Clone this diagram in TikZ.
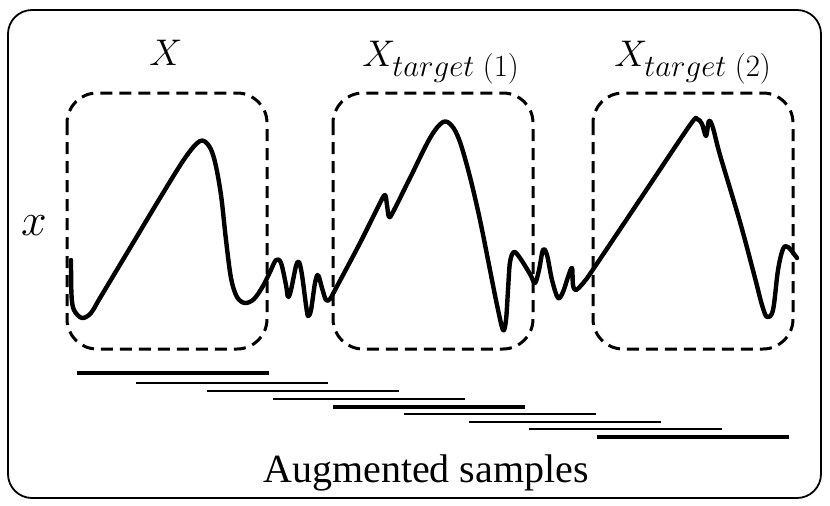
\documentclass[tikz,border=0pt]{standalone}
\usepackage{fontspec}
\newfontfamily\timesfont{Liberation Serif}
\begin{document}
\begin{tikzpicture}[x=1pt,y=-1pt,
  frame/.style={draw=black,line width=1.8pt,rounded corners=24pt},
  winbox/.style={draw=black,line width=3pt,dash pattern=on 12pt off 7pt,rounded corners=30pt},
  signal/.style={draw=black,line width=4.4pt,line cap=round,line join=round},
  thickseg/.style={draw=black,line width=4pt},
  thinseg/.style={draw=black,line width=1.8pt},
  lbl/.style={inner sep=0pt,anchor=base,font=\fontsize{24.88}{28}\selectfont}]
\useasboundingbox (0,0) rectangle (830,506);
\draw[frame] (8,10) rectangle (821,498);
% windows
\draw[winbox] (67,93) rectangle (267,349);
\draw[winbox] (333,93) rectangle (533,349);
\draw[winbox] (593,93) rectangle (793,349);
% signal
\draw[signal] plot[smooth,tension=0.55] coordinates {
 (71,260) (71.5,295) (74,310) (82,318) (91,313) (100,298)
 (133,243) (160,198) (185,158) (200,141) (209,146) (215,162)
 (221,195) (226,240) (231,278) (237,297) (245,303) (254,299) (263,286) (270,272) (276,260)
 (281,263) (286,285) (288,297) (291,290) (296,266) (299,262) (302,275) (306,305) (308,316)
 (311,310) (315,283) (318,275) (322,288) (326,300) (330,299)
 (335,290) (360,243) (380,203) (385,195) (387,205) (389,217) (393,212) (410,178) (430,138)
 (443,122) (452,126) (460,142) (470,177) (480,220) (490,270) (497,305) (503,330)
 (506,320) (508,290) (510,262) (514,252) (520,258) (530,274) (535,283) (539,270) (543,250)
 (547,255) (552,280) (558,298) (563,292) (568,277) (572,268) (573,285) (576,290) (584,282)
 (594,268) (645,192) (690,125) (697,119) (702,124) (706,136) (709,121) (713,128)
 (720,155) (740,222) (755,278) (762,305) (767,317) (773,310) (778,270) (783,249)
 (788,247) (797,258)};
% samples
\draw[thickseg] (77,373) -- (269,373);
\draw[thinseg] (136,383) -- (328,383);
\draw[thinseg] (207,391) -- (399,391);
\draw[thinseg] (273,399) -- (465,399);
\draw[thickseg] (333,407) -- (525,407);
\draw[thinseg] (404,414) -- (596,414);
\draw[thinseg] (469,422) -- (661,422);
\draw[thinseg] (529,429) -- (722,429);
\draw[thickseg] (597,437) -- (789,437);
% labels
\node[lbl,scale=1.49] (lx) at (166,65) {$X$};
\node[lbl,scale=1.49,anchor=base west] (lt1) at (362,66) {$X_{target\;(1)}$};
\node[lbl,scale=1.49,anchor=base west] (lt2) at (614,66) {$X_{target\;(2)}$};
\node[lbl,scale=1.85] (ly) at (34,235) {$x$};
\node[lbl] (aug) at (426,482) {\timesfont\fontsize{40}{44}\selectfont Augmented samples};
\end{tikzpicture}
\end{document}
